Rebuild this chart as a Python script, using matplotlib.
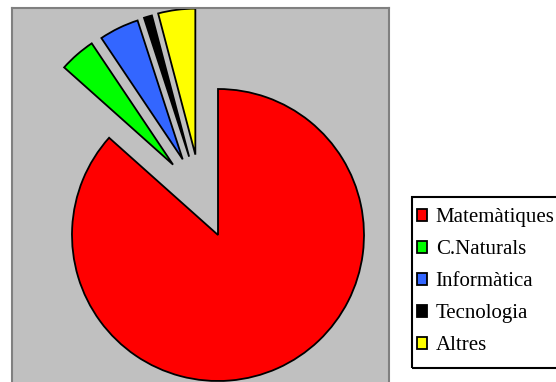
import matplotlib
matplotlib.use("Agg")
import matplotlib.pyplot as plt
import numpy as np
from matplotlib.patches import Rectangle

labels = ["Matemàtiques", "C.Naturals", "Informàtica", "Tecnologia", "Altres"]
values = [86.6, 4.0, 4.4, 0.9, 4.1]
colors = ["#FF0000", "#00FF00", "#3366FF", "#000000", "#FFFF00"]
exploded = [False, True, True, True, True]

W, H = 556, 382
R = 146
CX, CY = 218, 147
EXPL = 83.5   # pull-out distance of the small slices (px)

fig = plt.figure(figsize=(W / 100, H / 100), dpi=100)

# plot area in pixel coords (y up), bottom edge runs off the figure
x0, x1, y0, y1 = 12, 389, -8, 374
ax = fig.add_axes([x0 / W, y0 / H, (x1 - x0) / W, (y1 - y0) / H])
wedges, _ = ax.pie(values, colors=colors, startangle=90, counterclock=False,
                   center=(CX, CY), radius=R,
                   wedgeprops=dict(edgecolor="black", linewidth=1.3, joinstyle="miter"))

# pull the small slices out, direction halfway between own bisector and group bisector
small = [w for w, e in zip(wedges, exploded) if e]
gmid = 0.5 * (min(w.theta1 for w in small) + max(w.theta2 for w in small))
for w in small:
    phi = np.deg2rad(0.5 * (0.5 * (w.theta1 + w.theta2) + gmid))
    w.set_center((CX + EXPL * np.cos(phi), CY + EXPL * np.sin(phi)))

ax.set_xlim(x0, x1); ax.set_ylim(y0, y1); ax.set_aspect("auto")
ax.set_facecolor("#C0C0C0")
ax.set_frame_on(True)
for s in ax.spines.values():
    s.set_color("#808080"); s.set_linewidth(1.5)
ax.set_xticks([]); ax.set_yticks([])

# legend: frameless entries + own box (box runs off the right edge like the original)
handles = [Rectangle((0, 0), 1, 1, facecolor=c, edgecolor="black", linewidth=1.3) for c in colors]
fig.legend(handles, labels, loc="upper left", bbox_to_anchor=(417 / W, 1 - 208 / H),
           prop={"family": "Liberation Serif", "size": 15}, frameon=False,
           handlelength=0.5, handleheight=0.5, handletextpad=0.4,
           labelspacing=0.63, borderpad=0, borderaxespad=0)
fig.add_artist(Rectangle((412 / W, (H - 368) / H), 0.3, (368 - 197) / H,
                         transform=fig.transFigure, fill=False,
                         edgecolor="black", linewidth=1.5, clip_on=False))

fig.savefig("out.png", dpi=100)
